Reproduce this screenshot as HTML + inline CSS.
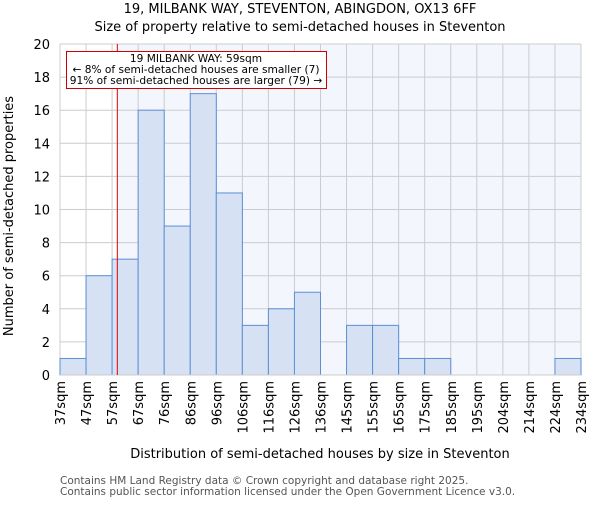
<!DOCTYPE html>
<html><head><meta charset="utf-8"><style>body{margin:0;background:#fff}svg{font-family:"DejaVu Sans","Liberation Sans",sans-serif}</style></head>
<body>
<svg width="600" height="500" id="c"></svg>
<script>
const categories=["37sqm","47sqm","57sqm","67sqm","76sqm","86sqm","96sqm","106sqm","116sqm","126sqm","136sqm","145sqm","155sqm","165sqm","175sqm","185sqm","195sqm","204sqm","214sqm","224sqm","234sqm"];
const counts=[1,6,7,16,9,17,11,3,4,5,0,3,3,1,1,0,0,0,0,1];
const yTicks=[0,2,4,6,8,10,12,14,16,18,20];
const subjectSize=59;
const binStarts=[37,47,57,67,76,86,96,106,116,126,136,145,155,165,175,185,195,204,214,224,234];
const L=60,R=581,T=44,B=375,N=counts.length;
const bw=(R-L)/N;
const x=i=>L+i*bw, y=v=>B-v/20*(B-T);
const ns="http://www.w3.org/2000/svg",svg=document.getElementById('c');
function mk(t,a,p){const e=document.createElementNS(ns,t);for(const k in a)e.setAttribute(k,a[k]);(p||svg).appendChild(e);return e;}
let si=0;for(let i=0;i<N;i++){if(subjectSize>=binStarts[i]&&subjectSize<binStarts[i+1])si=i;}
const sx=x(si)+(subjectSize-binStarts[si])/(binStarts[si+1]-binStarts[si])*bw;
let e=mk('rect',{x:L,y:T,width:R-L,height:B-T,fill:'#fff'});

e=mk('rect',{x:sx,y:T,width:R-sx,height:B-T,fill:'#f3f6fd'});

for(let i=0;i<=N;i++){e=mk('line',{x1:x(i),x2:x(i),y1:T,y2:B,stroke:'#cccccc','stroke-width':1});}
yTicks.forEach(v=>{e=mk('line',{x1:L,x2:R,y1:y(v),y2:y(v),stroke:'#cccccc','stroke-width':1});
e=mk('text',{x:L-10,y:y(v)+5,'text-anchor':'end','font-size':13,fill:'#000'});e.textContent=v;});
counts.forEach((v,i)=>{if(v>0){e=mk('rect',{x:x(i),y:y(v),width:bw,height:B-y(v),fill:'#d6e2f4',stroke:'#5b8fd6','stroke-width':1});}});
e=mk('line',{x1:L,x2:R,y1:B,y2:B,stroke:'#cccccc'});
categories.forEach((c,i)=>{const tx=x(i)+5;e=mk('text',{x:0,y:0,transform:`translate(${tx},381) rotate(-90)`,'text-anchor':'end','font-size':13,fill:'#000'});e.textContent=c;});
e=mk('line',{x1:sx,x2:sx,y1:T,y2:B,stroke:'#dd0000','stroke-width':1});
e=mk('rect',{x:66.5,y:51.5,width:260,height:37,fill:'#fff',stroke:'#cc0000','stroke-width':1});
[["19 MILBANK WAY: 59sqm",62],["← 8% of semi-detached houses are smaller (7)",73],["91% of semi-detached houses are larger (79) →",84]].forEach(t=>{e=mk('text',{x:196,y:t[1],'text-anchor':'middle','font-size':10.6,fill:'#000'});e.textContent=t[0];});
e=mk('text',{x:300,y:13,'text-anchor':'middle','font-size':13});e.textContent="19, MILBANK WAY, STEVENTON, ABINGDON, OX13 6FF";
e=mk('text',{x:300,y:31,'text-anchor':'middle','font-size':13});e.textContent="Size of property relative to semi-detached houses in Steventon";
e=mk('text',{x:0,y:0,transform:'translate(13,216) rotate(-90)','text-anchor':'middle','font-size':13});e.textContent="Number of semi-detached properties";
e=mk('text',{x:320,y:458,'text-anchor':'middle','font-size':13});e.textContent="Distribution of semi-detached houses by size in Steventon";
e=mk('text',{x:60,y:484,'font-size':10.5,fill:'#555'});e.textContent="Contains HM Land Registry data © Crown copyright and database right 2025.";
e=mk('text',{x:60,y:495,'font-size':10.5,fill:'#555'});e.textContent="Contains public sector information licensed under the Open Government Licence v3.0.";
</script>
</body></html>
